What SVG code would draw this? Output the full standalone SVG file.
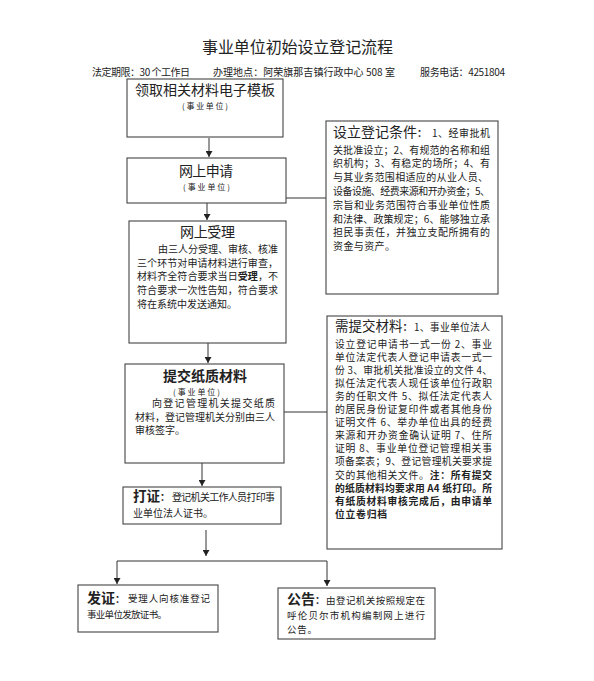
<svg xmlns="http://www.w3.org/2000/svg" width="594" height="681" viewBox="0 0 594 681">
<defs>
<style>
text{font-family:"Noto Sans CJK SC","Noto Sans",sans-serif;fill:#222;}
.box{fill:#fff;stroke:#444;stroke-width:1.1;}
.ln{fill:none;stroke:#333;stroke-width:1;}
.t14{font-size:14px;}
.t13{font-size:13.5px;}
.s10{font-size:10px;}
.r10{font-size:9.8px;}
.s9{font-size:9.5px;}
.s8{font-size:8px;}
.c{font-size:10px;font-weight:bold;}
.b{font-weight:bold;}
</style>
<marker id="ah" markerUnits="userSpaceOnUse" markerWidth="6" markerHeight="7" refX="6" refY="3.5" orient="auto">
<path d="M0,0 L6,3.5 L0,7 z" fill="#222"/>
</marker>
</defs>
<rect x="0" y="0" width="594" height="681" fill="#fff"/>

<g id="header">
<text x="202" y="53" font-size="16" textLength="191">事业单位初始设立登记流程</text>
<text x="92" y="76" font-size="10" textLength="98">法定期限：30 个工作日</text>
<text x="213" y="76" font-size="10" textLength="182">办理地点：阿荣旗那吉镇行政中心 508 室</text>
<text x="420" y="76" font-size="10" textLength="85">服务电话：4251804</text>
</g>

<g id="connectors">
<line class="ln" x1="209" y1="138" x2="209" y2="157" marker-end="url(#ah)"/>
<line class="ln" x1="207" y1="203" x2="207" y2="220" marker-end="url(#ah)"/>
<line class="ln" x1="286" y1="198" x2="326" y2="198"/>
<line class="ln" x1="208" y1="343" x2="208" y2="363" marker-end="url(#ah)"/>
<line class="ln" x1="284" y1="412" x2="327" y2="412"/>
<line class="ln" x1="202" y1="463" x2="202" y2="486" marker-end="url(#ah)"/>
<line class="ln" x1="206" y1="530" x2="206" y2="556" marker-end="url(#ah)"/>
<line class="ln" x1="117" y1="561" x2="327" y2="561"/>
<line class="ln" x1="117" y1="561" x2="117" y2="584" marker-end="url(#ah)"/>
<line class="ln" x1="327" y1="561" x2="327" y2="586" marker-end="url(#ah)"/>
</g>

<g id="n1">
<rect class="box" x="127" y="79" width="156" height="58"/>
<text class="t14" x="135" y="95" textLength="140">领取相关材料电子模板</text>
<text class="s8" x="182" y="109" textLength="46">(事业单位)</text>
</g>

<g id="n2">
<rect class="box" x="127" y="158" width="159" height="45"/>
<text class="t14" x="179" y="176" textLength="54">网上申请</text>
<text class="s8" x="183" y="190" textLength="47">(事业单位)</text>
</g>

<g id="n3">
<rect class="box" x="129" y="221" width="157" height="122"/>
<text class="t14" x="180" y="237" textLength="55">网上受理</text>
<text class="s10" x="158" y="253" textLength="120">由三人分受理、审核、核准</text>
<text class="s10" x="137" y="266.5" textLength="141">三个环节对申请材料进行审查，</text>
<text class="s10" x="137" y="280" textLength="141">材料齐全符合要求当日<tspan class="b">受理</tspan>，不</text>
<text class="s10" x="137" y="294" textLength="141">符合要求一次性告知，符合要求</text>
<text class="s10" x="137" y="307.5" textLength="100">将在系统中发送通知。</text>
</g>

<g id="n4">
<rect class="box" x="125" y="364" width="159" height="99"/>
<text class="t14 b" x="163" y="381" textLength="84">提交纸质材料</text>
<text class="s8" x="173" y="394.5" textLength="47">(事业单位)</text>
<text class="s10" x="152" y="407" textLength="123">向登记管理机关提交纸质</text>
<text class="s10" x="135" y="420.5" textLength="140">材料，登记管理机关分别由三人</text>
<text class="s10" x="135" y="434" textLength="50">审核签字。</text>
</g>

<g id="n5">
<rect class="box" x="123" y="487" width="158" height="37"/>
<text class="t13 b" x="133" y="501">打证<tspan class="c">：</tspan></text>
<text class="s10" x="172" y="501" textLength="103">登记机关工作人员打印事</text>
<text class="s10" x="133" y="516.5" textLength="80">业单位法人证书。</text>
</g>

<g id="n6">
<rect class="box" x="78" y="585" width="140" height="47"/>
<text class="t14 b" x="87" y="602.5">发证<tspan class="c">：</tspan></text>
<text class="s9" x="128" y="602" textLength="82">受理人向核准登记</text>
<text class="s9" x="87" y="618" textLength="80">事业单位发放证书。</text>
</g>

<g id="n7">
<rect class="box" x="278" y="588" width="157" height="51"/>
<text class="t14 b" x="287" y="603.5">公告<tspan class="c">：</tspan></text>
<text class="s9" x="326" y="603.5" textLength="99">由登记机关按照规定在</text>
<text class="s9" x="287" y="619" textLength="138">呼伦贝尔市机构编制网上进行</text>
<text class="s9" x="287" y="632.5" textLength="30">公告。</text>
</g>

<g id="n8">
<rect class="box" x="326" y="121" width="172" height="173"/>
<text class="t14" x="333" y="137">设立登记条件<tspan class="c">：</tspan></text>
<text class="s10" x="432" y="137" textLength="58">1、经审批机</text>
<text class="s10" x="333" y="153.5" textLength="157">关批准设立；2、有规范的名称和组</text>
<text class="s10" x="333" y="167.3" textLength="157">织机构；3、有稳定的场所；4、有</text>
<text class="s10" x="333" y="181.1" textLength="155">与其业务范围相适应的从业人员、</text>
<text class="s10" x="333" y="194.9" textLength="157">设备设施、经费来源和开办资金；5、</text>
<text class="s10" x="333" y="208.7" textLength="157">宗旨和业务范围符合事业单位性质</text>
<text class="s10" x="333" y="222.5" textLength="157">和法律、政策规定；6、能够独立承</text>
<text class="s10" x="333" y="236.3" textLength="157">担民事责任，并独立支配所拥有的</text>
<text class="s10" x="333" y="250.1" textLength="62">资金与资产。</text>
</g>

<g id="n9">
<rect class="box" x="327" y="316" width="175" height="233"/>
<text class="t13" x="335" y="331">需提交材料<tspan class="c">：</tspan></text>
<text class="r10" x="414" y="331" textLength="76">1、事业单位法人</text>
<text class="r10" x="335" y="347.5" textLength="157">设立登记申请书一式一份 2、事业</text>
<text class="r10" x="335" y="360.6" textLength="157">单位法定代表人登记申请表一式一</text>
<text class="r10" x="335" y="373.7" textLength="157">份 3、审批机关批准设立的文件 4、</text>
<text class="r10" x="335" y="386.8" textLength="157">拟任法定代表人现任该单位行政职</text>
<text class="r10" x="335" y="399.9" textLength="157">务的任职文件 5、拟任法定代表人</text>
<text class="r10" x="335" y="413" textLength="157">的居民身份证复印件或者其他身份</text>
<text class="r10" x="335" y="426.1" textLength="157">证明文件 6、举办单位出具的经费</text>
<text class="r10" x="335" y="439.2" textLength="157">来源和开办资金确认证明 7、住所</text>
<text class="r10" x="335" y="452.3" textLength="157">证明 8、事业单位登记管理相关事</text>
<text class="r10" x="335" y="465.4" textLength="157">项备案表；9、登记管理机关要求提</text>
<text class="r10" x="335" y="478.5" textLength="157">交的其他相关文件。<tspan class="b">注：所有提交</tspan></text>
<text class="r10 b" x="335" y="491.6" textLength="157">的纸质材料均要求用 A4 纸打印。所</text>
<text class="r10 b" x="335" y="504.7" textLength="157">有纸质材料审核完成后，由申请单</text>
<text class="r10 b" x="335" y="517.8" textLength="52">位立卷归档</text>
</g>
</svg>
